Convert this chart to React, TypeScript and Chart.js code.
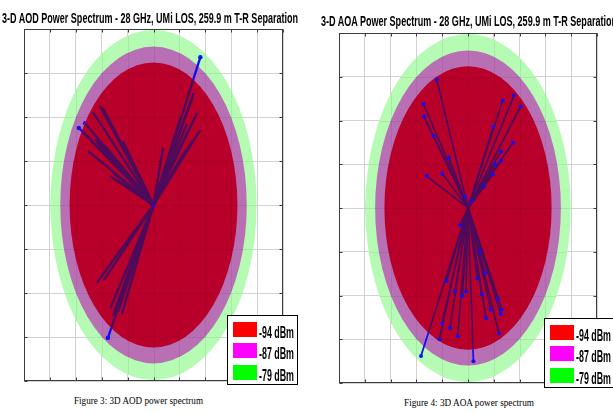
import React, { useEffect, useLayoutEffect, useRef } from "react";
import { Chart, registerables } from "chart.js";

Chart.register(...registerables);

// ---- data ----
const levelLabels = ["-94 dBm", "-87 dBm", "-79 dBm"];
const levelRadii = [3.24, 3.6, 3.98];
const levelFill = ["#b9002b", "#b86fb4", "#b6fbb4"];
const legendSwatch = ["#ff0000", "#ff00ff", "#00ff00"];

const xRange = [-5, 5];
const yRange = [-4, 4];

// AOD ray end points (left figure)
const aodX = [
  -2.88, -2.64, -2.34, -2.07, -1.95, -2.68, -2.53, -2.26, -2.18, -1.68, -1.56, -1.37, -1.18, -1.87,
  1.81, 1.56, 1.49, 1.68, 1.8, 1.33, 1.29, 1.49, 0.37, 1.22, 1.02,
  -2.18, -1.91, -1.76, -1.66, -1.49, -1.37, -1.22, -1.56,
];
const aodY = [
  1.75, 1.86, 2.11, 2.25, 2.2, 1.64, 1.23, 1.5, 1.43, 0.66, 0.73, 0.55, 1.45, 1.34,
  3.36, 2.55, 2.43, 2.09, 1.7, 1.68, 1.84, 1.45, 1.3, 1.23, 1.95,
  -1.76, -1.7, -3.02, -2.34, -2.39, -2.43, -2.48, -2.52,
];

// AOA ray end points (right figure)
const aoaX = [
  -1.21, -1.73, -1.71, -1.34, -0.74, -1.6, -1.0, -0.12, 1.34, 1.78, 2.04, 0.98, 1.74, 1.28, 1.28, 1.05, 0.96, 0.62, 0.14,
  -0.31, 0.47, -0.83, -0.5, -0.22, -0.08, 0.36, 0.66, 0.53, 1.17, 0.88, 1.31, 1.27, 0.7, 1.2, -0.4, -1.11, 0.21, -1.82, -0.7, -1.0,
];
const aoaY = [
  2.93, 2.38, 2.09, 1.65, 1.15, 0.73, 0.79, 0.26, 2.45, 2.57, 2.32, 1.86, 1.49, 1.3, 1.08, 1.0, 0.77, 0.49, 0.16,
  -0.39, -1.0, -1.67, -1.91, -2.01, -1.91, -1.61, -1.48, -1.97, -2.08, -2.32, -2.32, -2.43, -2.52, -2.86, -2.93, -3.0, -3.5, -3.38, -2.75, -2.64,
];

const RAY_IN = "#4c0b5c";
const RAY_OUT = "#1010f0";

type PanelCfg = {
  title: string;
  caption: string;
  xs: number[];
  ys: number[];
  left: number;
  w: number;
  h: number;
  pad: { left: number; top: number; right: number; bottom: number };
  lineWidth: number;
  dotsAll: boolean;
  centerDot: boolean;
  legendDx: number;
  legendDy: number;
  titleX: number;
  titleTop: number;
  capX: number;
  capTop: number;
  capW: number;
};

const panels: PanelCfg[] = [
  {
    title: "3-D AOD Power Spectrum - 28 GHz, UMi LOS, 259.9 m T-R Separation",
    caption: "Figure 3: 3D AOD power spectrum",
    xs: aodX,
    ys: aodY,
    left: 0,
    w: 306,
    h: 392,
    pad: { left: 24, top: 29, right: 23, bottom: 11 },
    lineWidth: 2.4,
    dotsAll: false,
    centerDot: true,
    legendDx: -56,
    legendDy: -66,
    titleX: 2,
    titleTop: 10,
    capX: 74,
    capTop: 395,
    capW: 129,
  },
  {
    title: "3-D AOA Power Spectrum - 28 GHz, UMi LOS, 259.9 m T-R Separation",
    caption: "Figure 4: 3D AOA power spectrum",
    xs: aoaX,
    ys: aoaY,
    left: 306,
    w: 307,
    h: 392,
    pad: { left: 33, top: 33, right: 16, bottom: 9 },
    lineWidth: 1.7,
    dotsAll: true,
    centerDot: false,
    legendDx: -53,
    legendDy: -65,
    titleX: 321,
    titleTop: 13,
    capX: 404,
    capTop: 397,
    capW: 130,
  },
];

function ellipseAt(ctx: CanvasRenderingContext2D, chart: any, r: number) {
  const sx = chart.scales.x;
  const sy = chart.scales.y;
  const cx = sx.getPixelForValue(0);
  const cy = sy.getPixelForValue(0);
  const rx = Math.abs(sx.getPixelForValue(r) - cx);
  const ry = Math.abs(cy - sy.getPixelForValue(r));
  ctx.moveTo(cx + rx, cy);
  ctx.ellipse(cx, cy, rx, ry, 0, 0, Math.PI * 2);
}

const spectrumPlugin = {
  id: "spectrum",
  beforeDatasetsDraw(chart: any) {
    const ctx: CanvasRenderingContext2D = chart.ctx;
    const a = chart.chartArea;
    ctx.save();
    for (let i = levelRadii.length - 1; i >= 0; i--) {
      ctx.beginPath();
      ellipseAt(ctx, chart, levelRadii[i]);
      ctx.fillStyle = levelFill[i];
      ctx.fill();
    }
    ctx.beginPath();
    ellipseAt(ctx, chart, levelRadii[levelRadii.length - 1]);
    ctx.clip();
    ctx.strokeStyle = "rgba(0,0,0,0.07)";
    ctx.lineWidth = 1;
    chart.scales.x.ticks.forEach((t: any) => {
      const px = Math.round(chart.scales.x.getPixelForValue(t.value)) + 0.5;
      ctx.beginPath();
      ctx.moveTo(px, a.top);
      ctx.lineTo(px, a.bottom);
      ctx.stroke();
    });
    chart.scales.y.ticks.forEach((t: any) => {
      const py = Math.round(chart.scales.y.getPixelForValue(t.value)) + 0.5;
      ctx.beginPath();
      ctx.moveTo(a.left, py);
      ctx.lineTo(a.right, py);
      ctx.stroke();
    });
    ctx.restore();
  },
  beforeDatasetDraw(chart: any, args: any) {
    const ds = chart.data.datasets[args.index];
    if (!ds.clipMode) return;
    const ctx: CanvasRenderingContext2D = chart.ctx;
    const a = chart.chartArea;
    ctx.save();
    ctx.beginPath();
    if (ds.clipMode === "out") {
      ctx.rect(a.left - 10, a.top - 10, a.right - a.left + 20, a.bottom - a.top + 20);
    }
    ellipseAt(ctx, chart, levelRadii[0]);
    ctx.clip("evenodd");
  },
  afterDatasetDraw(chart: any, args: any) {
    const ds = chart.data.datasets[args.index];
    if (ds.clipMode) chart.ctx.restore();
  },
  afterDraw(chart: any, _args: any, opts: any) {
    const ctx: CanvasRenderingContext2D = chart.ctx;
    const a = chart.chartArea;
    ctx.save();
    // axes box
    ctx.strokeStyle = "#3c3c3c";
    ctx.lineWidth = 1;
    const L = Math.round(a.left) + 0.5;
    const R = Math.round(a.right) - 0.5;
    const T = Math.round(a.top) + 0.5;
    const B = Math.round(a.bottom) - 0.5;
    ctx.strokeRect(L, T, R - L, B - T);
    ctx.beginPath();
    chart.scales.x.ticks.forEach((t: any) => {
      const px = Math.round(chart.scales.x.getPixelForValue(t.value)) + 0.5;
      ctx.moveTo(px, B);
      ctx.lineTo(px, B - 3);
      ctx.moveTo(px, T);
      ctx.lineTo(px, T + 3);
    });
    chart.scales.y.ticks.forEach((t: any) => {
      const py = Math.round(chart.scales.y.getPixelForValue(t.value)) + 0.5;
      ctx.moveTo(L, py);
      ctx.lineTo(L + 3, py);
      ctx.moveTo(R, py);
      ctx.lineTo(R - 3, py);
    });
    ctx.stroke();

    // legend
    const bx = Math.round(a.right + opts.legendDx) + 0.5;
    const by = Math.round(a.bottom + opts.legendDy) + 0.5;
    const bw = 70;
    const bh = 69;
    ctx.fillStyle = "#ffffff";
    ctx.fillRect(bx, by, bw, bh);
    ctx.strokeStyle = "#000000";
    ctx.strokeRect(bx, by, bw, bh);
    ctx.font = 'bold 16px "Liberation Sans Narrow", "Liberation Sans", Arial, sans-serif';
    ctx.textBaseline = "alphabetic";
    levelLabels.forEach((lab, i) => {
      const sy = Math.round(by + 6 + i * 21.5);
      ctx.fillStyle = legendSwatch[i];
      ctx.fillRect(Math.round(bx + 5), sy, 24, 15);
      ctx.fillStyle = "#000";
      const w = ctx.measureText(lab).width;
      ctx.save();
      ctx.translate(Math.round(bx + 31.5), sy + 15.5);
      ctx.scale(35 / w, 1);
      ctx.fillText(lab, 0, 0);
      ctx.restore();
    });
    ctx.restore();
  },
};

function FitText(props: { text: string; left: number; top: number; width: number; font: string }) {
  const ref = useRef<HTMLSpanElement>(null);
  useLayoutEffect(() => {
    const el = ref.current;
    if (!el) return;
    el.style.transform = "none";
    const w = el.getBoundingClientRect().width;
    if (w > 0) el.style.transform = `scaleX(${props.width / w})`;
  }, [props.text, props.width, props.font]);
  return (
    <span
      ref={ref}
      style={{
        position: "absolute",
        left: props.left,
        top: props.top,
        font: props.font,
        lineHeight: 1,
        whiteSpace: "nowrap",
        transformOrigin: "0 0",
        color: "#000",
      }}
    >
      {props.text}
    </span>
  );
}

function Panel({ cfg }: { cfg: PanelCfg }) {
  const ref = useRef<HTMLCanvasElement>(null);
  useEffect(() => {
    if (!ref.current) return;
    const rays = cfg.xs.map((x, i) => ({ x, y: cfg.ys[i] }));
    const origin = { x: 0, y: 0 };
    const datasets: any[] = [];
    rays.forEach((p) => {
      datasets.push({
        data: [origin, p],
        showLine: true,
        borderColor: RAY_IN,
        borderWidth: cfg.lineWidth,
        pointRadius: 0,
        clipMode: "in",
        order: 3,
      });
    });
    rays.forEach((p) => {
      datasets.push({
        data: [origin, p],
        showLine: true,
        borderColor: RAY_OUT,
        borderWidth: cfg.lineWidth,
        pointRadius: [0, cfg.dotsAll ? 0 : 2.2],
        pointBackgroundColor: RAY_OUT,
        pointBorderWidth: 0,
        clipMode: "out",
        order: 2,
      });
    });
    datasets.push({
      data: cfg.dotsAll ? rays : [],
      showLine: false,
      pointRadius: 2,
      pointBackgroundColor: RAY_OUT,
      pointBorderWidth: 0,
      order: 1,
    });
    datasets.push({
      data: cfg.centerDot ? [origin] : [],
      showLine: false,
      pointStyle: "rect",
      pointRadius: 2.2,
      pointBackgroundColor: RAY_OUT,
      pointBorderWidth: 0,
      order: 0,
    });

    const chart = new Chart(ref.current, {
      type: "scatter",
      data: { datasets },
      options: {
        animation: false,
        responsive: false,
        devicePixelRatio: 1,
        events: [],
        layout: { padding: cfg.pad },
        scales: {
          x: {
            type: "linear",
            min: xRange[0],
            max: xRange[1],
            ticks: { display: false, stepSize: 1 },
            grid: { color: "#d2d2d2", drawTicks: false, lineWidth: 1 },
            border: { display: false },
          },
          y: {
            type: "linear",
            min: yRange[0],
            max: yRange[1],
            ticks: { display: false, stepSize: 1 },
            grid: { color: "#d2d2d2", drawTicks: false, lineWidth: 1 },
            border: { display: false },
          },
        },
        plugins: {
          legend: { display: false },
          tooltip: { enabled: false },
          spectrum: { legendDx: cfg.legendDx, legendDy: cfg.legendDy },
        } as any,
      },
      plugins: [spectrumPlugin as any],
    });
    return () => chart.destroy();
  }, [cfg]);
  return (
    <canvas
      ref={ref}
      width={cfg.w}
      height={cfg.h}
      style={{ position: "absolute", left: cfg.left, top: 0, width: cfg.w, height: cfg.h }}
    />
  );
}

export default function App() {
  return (
    <div
      style={{
        position: "fixed",
        left: 0,
        top: 0,
        width: 613,
        height: 413,
        overflow: "hidden",
        background: "#fff",
      }}
    >
      {panels.map((p, i) => (
        <Panel key={i} cfg={p} />
      ))}
      {panels.map((p, i) => (
        <FitText
          key={"t" + i}
          text={p.title}
          left={p.titleX}
          top={p.titleTop}
          width={296}
          font='bold 15px "Liberation Sans Narrow", "Liberation Sans", Arial, sans-serif'
        />
      ))}
      {panels.map((p, i) => (
        <FitText
          key={"c" + i}
          text={p.caption}
          left={p.capX}
          top={p.capTop}
          width={p.capW}
          font='11px "Liberation Serif", "Times New Roman", serif'
        />
      ))}
    </div>
  );
}
